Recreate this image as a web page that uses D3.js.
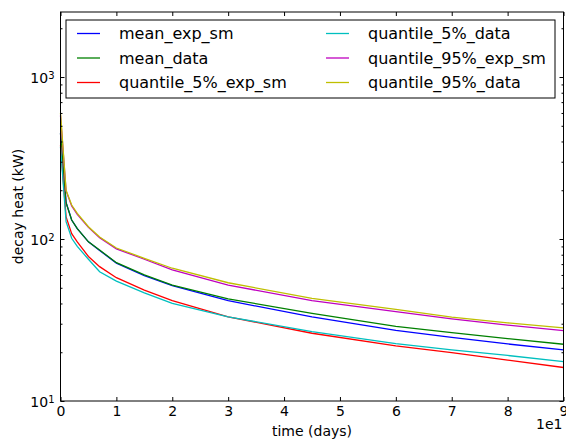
<!DOCTYPE html>
<html>
<head>
<meta charset="utf-8">
<script src="https://cdn.jsdelivr.net/npm/d3@7"></script>
<style>
body{margin:0;background:#fff}
text{font-family:'DejaVu Sans',sans-serif;fill:#000}
</style>
</head>
<body>
<div class="Chart"></div>
<script>
// time in units of 10 days
const times=[0,0.1,0.2,0.3,0.5,0.7,1,1.5,2,3,4.5,6,7,8,9]

const meanExpSm=[450,168,131,116,96,85,71,59.5,51.5,41.6,33.1,27.3,24.7,22.5,20.7]
const meanData=[450,167,131,116,96,85.5,71.4,60,52,42.7,34.8,28.9,26.4,24.3,22.4]
const q5ExpSm=[380,137,108,96,78,67.5,57.7,48.4,41.6,33.1,26.2,21.9,19.9,17.9,16.1]
const q5Data=[370,128,101,90,75,62.8,55,46.5,40.1,33.1,26.8,22.6,20.7,19.1,17.5]
const q95ExpSm=[580,198,160,142,118,102,87,75,64.4,52,41.6,35.6,32.1,29.4,27.2]
const q95Data=[600,200,162,144,119,103,88,76,66,53.7,43,36.8,32.9,30.4,28.3]

const seriesNames=['mean_exp_sm','mean_data','quantile_5%_exp_sm','quantile_5%_data','quantile_95%_exp_sm','quantile_95%_data']
const seriesValues=[meanExpSm,meanData,q5ExpSm,q5Data,q95ExpSm,q95Data]
const colors=['#0000ff','#008000','#ff0000','#00bfbf','#bf00bf','#bfbf00']
const xTicks=[0,1,2,3,4,5,6,7,8,9]
const yMajor=[10,100,1000]

const W=566,H=440
const margin=({top:12,right:2.5,bottom:39,left:60.5})
const width=W-margin.left-margin.right,
      height=H-margin.top-margin.bottom

let svg=d3.select('.Chart').append('svg')
  .attr('width',W)
  .attr('height',H)
  .append('g')
  .attr('transform','translate('+margin.left+','+margin.top+')')

let xScale=d3.scaleLinear().domain([0,9]).range([0,width])
let yScale=d3.scaleLog().domain([10,2520]).range([height,0])

let minor=[]
for(let d=10;d<=1000;d*=10){
  for(let k=2;k<=9;k++){ if(d*k<2520) minor.push(d*k) }
}

// lines
const line=d3.line()
  .x((d,i)=>xScale(times[i]))
  .y(d=>yScale(d))

svg.append('g')
  .selectAll('path')
  .data(seriesValues)
  .join('path')
  .attr('d',line)
  .attr('fill','none')
  .attr('stroke',(d,i)=>colors[i])
  .attr('stroke-width',1.3)

// axes, ticks inward
const xAxisB=svg.append('g').attr('transform',`translate(0,${height})`)
  .call(d3.axisBottom(xScale).tickValues(xTicks).tickSizeInner(-4).tickSizeOuter(0).tickPadding(5).tickFormat(d3.format('d')))
const xAxisT=svg.append('g')
  .call(d3.axisTop(xScale).tickValues(xTicks).tickSizeInner(-4).tickSizeOuter(0).tickFormat(''))
const yAxisL=svg.append('g')
  .call(d3.axisLeft(yScale).tickValues(yMajor).tickSizeInner(-4).tickSizeOuter(0).tickFormat(''))
const yMinorL=svg.append('g')
  .call(d3.axisLeft(yScale).tickValues(minor).tickSizeInner(-2).tickSizeOuter(0).tickFormat(''))
const yAxisR=svg.append('g').attr('transform',`translate(${width},0)`)
  .call(d3.axisRight(yScale).tickValues(yMajor).tickSizeInner(-4).tickSizeOuter(0).tickFormat(''))
const yMinorR=svg.append('g').attr('transform',`translate(${width},0)`)
  .call(d3.axisRight(yScale).tickValues(minor).tickSizeInner(-2).tickSizeOuter(0).tickFormat(''))

svg.selectAll('.domain').remove()
svg.selectAll('.tick line').attr('stroke','#000')
xAxisB.selectAll('.tick text').style('font-size','14px').style('font-family',"'DejaVu Sans'")

// y labels 10^n
yAxisL.selectAll('.tick').each(function(d){
  const t=d3.select(this).append('text')
    .attr('x',-6).attr('dy','0.4em')
    .attr('text-anchor','end')
    .style('font-size','14px')
  t.append('tspan').text('10')
  t.append('tspan').attr('dy','-0.45em').style('font-size','10px').text(Math.round(Math.log10(d)))
})

// frame
svg.append('rect')
  .attr('width',width).attr('height',height)
  .attr('fill','none').attr('stroke','#000').attr('stroke-width',1)

svg.append('text')
  .attr('x',width/2).attr('y',height+35)
  .attr('text-anchor','middle')
  .style('font-size','14px')
  .text('time (days)')

svg.append('text')
  .attr('x',width-1).attr('y',height+28)
  .attr('text-anchor','end')
  .style('font-size','14px')
  .text('1e1')

svg.append('text')
  .attr('transform',`translate(${-37.5},${height/2}) rotate(-90)`)
  .attr('text-anchor','middle')
  .style('font-size','14px')
  .text('decay heat (kW)')

// legend
const lg=svg.append('g').attr('transform',`translate(${66-margin.left},${20-margin.top})`)
lg.append('rect')
  .attr('width',489).attr('height',78)
  .attr('fill','#fff').attr('stroke','#000').attr('stroke-width',1)
seriesNames.forEach((name,i)=>{
  const col=Math.floor(i/3),row=i%3
  const g=lg.append('g').attr('transform',`translate(${col*249},${13.5+row*24.5})`)
  g.append('line').attr('x1',11).attr('x2',34).attr('y1',0).attr('y2',0)
    .attr('stroke',colors[i]).attr('stroke-width',1.3)
  g.append('text').attr('x',53).attr('dy','0.35em')
    .style('font-size','16px').text(name)
})
</script>
</body>
</html>
